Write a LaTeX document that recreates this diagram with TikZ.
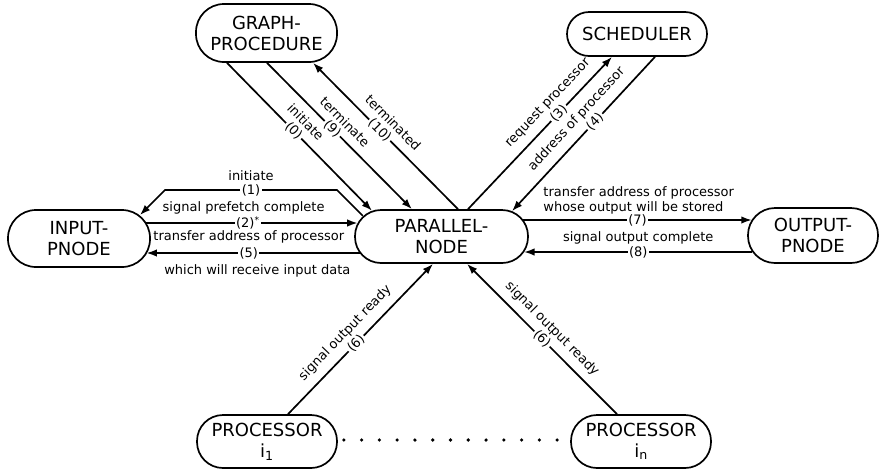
\documentclass[tikz,border=0pt]{standalone}
\usepackage{fontspec}
\setmainfont{DejaVu Sans}
\usetikzlibrary{arrows.meta,calc}

\newcommand\boxfont{\fontsize{18}{21}\selectfont}
\newcommand\labfont{\fontsize{13}{15}\selectfont}

\begin{document}
\begin{tikzpicture}[x=1pt,y=-1pt,
  proc/.style={draw, line width=1.7pt, rounded corners=#1, align=center,
               font=\boxfont, inner sep=0pt},
  conn/.style={line width=1.7pt, -{Latex[length=10.5pt,width=7.5pt]}},
  num/.style={font=\labfont, fill=white, inner sep=1.5pt},
  lab/.style={font=\labfont, inner sep=0pt},
]
\useasboundingbox (0,0) rectangle (880,472);

% ---- modules
\node[proc=28pt, minimum width=141pt, minimum height=58pt] (gp)  at (266.5,33)    {GRAPH-\\PROCEDURE};
\node[proc=22pt, minimum width=140pt, minimum height=44pt] (sch) at (637,34)      {SCHEDULER};
\node[proc=28pt, minimum width=142pt, minimum height=57pt] (inp) at (79,238.5)    {INPUT-\\PNODE};
\node[proc=26pt, minimum width=173pt, minimum height=53pt] (par) at (441.5,236.5) {PARALLEL-\\NODE};
\node[proc=27pt, minimum width=130pt, minimum height=55pt] (out) at (813,235.5)   {OUTPUT-\\PNODE};
\node[proc=26pt, minimum width=140pt, minimum height=53pt] (p1)  at (267,441.5)   {PROCESSOR\\i\textsubscript{1}};
\node[proc=26pt, minimum width=140pt, minimum height=53pt] (pn)  at (641,441.5)   {PROCESSOR\\i\textsubscript{n}};

% ---- graph-procedure <-> parallel-node
\draw[conn] ([shift={(-39.5,0)}]gp.south) --
  node[num,sloped,pos=0.46]{(0)}
  node[lab,sloped,pos=0.47,above=9pt]{initiate}
  ([shift={(-69.5,1.6)}]par.north);
\draw[conn] ([shift={(0.5,0)}]gp.south) --
  node[num,sloped,pos=0.45]{(9)}
  node[lab,sloped,pos=0.47,above=8pt]{terminate}
  ([shift={(-29.5,0)}]par.north);
\draw[conn] ([shift={(16.5,0)}]par.north) --
  node[num,sloped,pos=0.54]{(10)}
  node[lab,sloped,pos=0.52,above=9pt]{terminated}
  ([shift={(46.5,0)}]gp.south);

% ---- parallel-node <-> scheduler
\draw[conn] ([shift={(26.5,0)}]par.north) --
  node[num,sloped,pos=0.63]{(3)}
  node[lab,sloped,pos=0.63,above=8pt]{request processor}
  ([shift={(-25,0)}]sch.south);
\draw[conn] ([shift={(18,0)}]sch.south) --
  node[num,sloped,pos=0.42]{(4)}
  node[lab,sloped,pos=0.47,above=8pt]{address of processor}
  ([shift={(70.5,2)}]par.north);

% ---- processors -> parallel-node
\draw[conn] ([shift={(21,0)}]p1.north) --
  node[num,sloped,pos=0.47]{(6)}
  node[lab,sloped,pos=0.47,above=8pt]{signal output ready}
  ([shift={(-8.5,0)}]par.south);
\draw[conn] ([shift={(-24,0)}]pn.north) --
  node[num,sloped,pos=0.5]{(6)}
  node[lab,sloped,pos=0.5,above=7pt]{signal output ready}
  ([shift={(25.5,0)}]par.south);

% dotted run of processors
\foreach \k in {0,...,12}
  \fill ($([shift={(6,-1.5)}]p1.east)!\k/12!([shift={(-13,-1.5)}]pn.west)$) circle (1.8pt);

% ---- parallel-node <-> input-pnode
\coordinate (k1) at (337,190);
\coordinate (k2) at (165,190);
\draw[conn] ([shift={(8.6,6.6)}]par.north west) -- (k1) --
  node[num,midway]{(1)}
  node[lab,midway,above=8.5pt]{initiate}
  (k2) -- ([shift={(-10.9,5.9)}]inp.north east);
\draw[conn] ([shift={(-4.4,-15.5)}]inp.east) --
  node[num,pos=0.48]{(2)\textsuperscript{*}}
  node[lab,pos=0.46,above=7.5pt]{signal prefetch complete}
  ([shift={(3.5,-13.5)}]par.west);
\draw[conn] ([shift={(5.5,16.5)}]par.west) --
  node[num,pos=0.52]{(5)}
  node[lab,pos=0.52,above=8.5pt]{transfer address of processor}
  node[lab,pos=0.48,below=11pt]{which will receive input data}
  ([shift={(-4.4,14.5)}]inp.east);

% ---- parallel-node <-> output-pnode
\draw[conn] ([shift={(-5.5,-16.5)}]par.east) --
  node[num,pos=0.5]{(7)}
  node[lab,pos=0.505,above=5pt,align=left]{transfer address of processor\\whose output will be stored}
  ([shift={(4.6,-15.5)}]out.west);
\draw[conn] ([shift={(5.3,16.5)}]out.west) --
  node[num,pos=0.5]{(8)}
  node[lab,pos=0.5,above=6.5pt]{signal output complete}
  ([shift={(-4.8,15.5)}]par.east);
\end{tikzpicture}
\end{document}
